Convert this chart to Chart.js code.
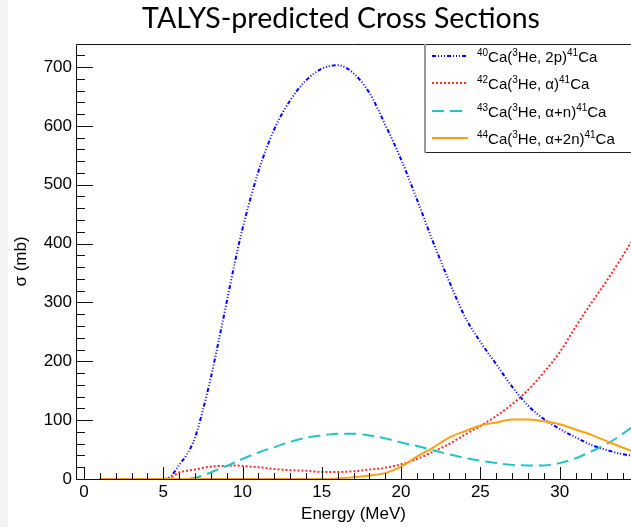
<!DOCTYPE html>
<html lang="en">
<head>
<meta charset="UTF-8">
<title>TALYS-predicted Cross Sections</title>
<script src="https://cdn.jsdelivr.net/npm/chart.js"></script>
<style>
    html, body { margin: 0; padding: 0; background: #fff; }
    canvas { display: block; }
</style>
</head>
<body>
<canvas id="grafico-secoes" width="631" height="527"></canvas>

<script>
    const energia = [1, 2, 3, 4, 5, 5.5, 6, 6.5, 7, 7.5, 8, 8.5, 9, 9.5, 10,
        11, 12, 13, 14, 15, 16, 17, 18, 19, 20, 21, 22, 23, 24, 25, 26, 27, 28, 29, 30, 31, 32, 33, 34, 34.5];

    const ca40_2p = [0, 0, 0, 0, 0, 5, 24, 42, 70, 117, 172, 235, 300, 366, 425,
        522, 594, 643, 677, 697, 703, 689, 656, 602, 543, 475, 404, 338, 277, 233, 195, 157, 125, 102, 85, 71, 58, 49, 42, 40];
    const ca42_a = [0, 0, 0, 0, 0, 3, 11, 14, 16, 19, 21, 22, 22, 23, 22,
        20, 17, 15, 14, 12, 12, 13, 16, 19, 25, 34, 46, 59, 75, 90, 107, 127, 151, 181, 215, 258, 299, 338, 380, 402];
    const ca43_an = [0, 0, 0, 0, 0, 0, 0, 0, 2, 6, 11, 17, 22, 28, 34,
        45, 54, 63, 70, 74, 77, 77, 74, 69, 62, 56, 49, 42, 36, 31, 27, 24, 23, 23, 27, 35, 47, 60, 77, 87];
    const ca44_a2n = [0, 0, 0, 0, 0, 0, 0, 0, 0, 0, 0, 0, 0, 0, 0,
        0, 0, 0, 0, 0, 1, 3, 6, 10, 21, 38, 53, 70, 81, 91, 96, 101, 101, 98, 93, 84, 75, 64, 53, 48];

    const rotulos = [
        '^{40}Ca(^{3}He, 2p)^{41}Ca',
        '^{42}Ca(^{3}He, \u03b1)^{41}Ca',
        '^{43}Ca(^{3}He, \u03b1+n)^{41}Ca',
        '^{44}Ca(^{3}He, \u03b1+2n)^{41}Ca'
    ];

    const ticksX = [0, 5, 10, 15, 20, 25, 30];
    const ticksY = [0, 100, 200, 300, 400, 500, 600, 700];

    const fonteEixo = 'Liberation Sans, Arial, sans-serif';

    function pontos(valores) {
        return energia.map((e, i) => ({ x: e, y: valores[i] }));
    }

    // texto com sobrescritos no estilo TLatex: ^{..}
    function textoLatex(ctx, texto, x, y, tam) {
        const partes = texto.split(/(\^\{[^}]*\})/).filter(p => p.length);
        let cx = x;
        partes.forEach(p => {
            if (p.startsWith('^{')) {
                const s = p.slice(2, -1);
                ctx.font = Math.round(tam * 0.66) + 'px ' + fonteEixo;
                ctx.fillText(s, cx, y - tam * 0.4);
                cx += ctx.measureText(s).width;
            } else {
                ctx.font = tam + 'px ' + fonteEixo;
                ctx.fillText(p, cx, y);
                cx += ctx.measureText(p).width;
            }
        });
    }

    const estiloRoot = {
        id: 'estiloRoot',
        beforeDraw(chart) {
            const ctx = chart.ctx;
            ctx.save();
            ctx.fillStyle = '#ffffff';
            ctx.fillRect(0, 0, chart.width, chart.height);
            ctx.fillStyle = '#f3f3f3';
            ctx.fillRect(0, 0, 8, chart.height);
            ctx.restore();
        },
        afterDraw(chart) {
            const { ctx, chartArea: a, scales: { x, y } } = chart;
            ctx.save();

            // moldura
            ctx.strokeStyle = '#111';
            ctx.lineWidth = 1;
            ctx.beginPath();
            ctx.moveTo(a.right, a.top + 0.5);
            ctx.lineTo(a.left + 0.5, a.top + 0.5);
            ctx.lineTo(a.left + 0.5, a.bottom + 0.5);
            ctx.lineTo(a.right, a.bottom + 0.5);

            // marcas para dentro, como no ROOT
            for (let v = 0; v <= 720; v += 20) {
                const py = Math.round(y.getPixelForValue(v)) + 0.5;
                const len = v % 100 === 0 ? 17 : 9;
                ctx.moveTo(a.left, py);
                ctx.lineTo(a.left + len, py);
            }
            for (let v = 0; v <= 34; v++) {
                const px = Math.round(x.getPixelForValue(v)) + 0.5;
                const len = v % 5 === 0 ? 12 : 6;
                ctx.moveTo(px, a.bottom);
                ctx.lineTo(px, a.bottom - len);
            }
            ctx.stroke();

            // legenda
            const lx = 424, ly = 44, lw = 208, lh = 108;
            ctx.fillStyle = '#fff';
            ctx.fillRect(lx, ly, lw, lh);
            ctx.strokeStyle = '#222';
            ctx.strokeRect(lx + 0.5, ly + 0.5, lw, lh);
            ctx.strokeStyle = '#999';
            ctx.lineWidth = 2;
            ctx.beginPath();
            ctx.moveTo(lx + 1, ly);
            ctx.lineTo(lx + 1, ly + lh + 1);
            ctx.stroke();

            const linhas = [56, 83, 111, 138];
            chart.data.datasets.forEach((ds, i) => {
                const yy = linhas[i];
                ctx.save();
                ctx.strokeStyle = ds.borderColor;
                ctx.lineWidth = ds.borderWidth;
                ctx.setLineDash(ds.borderDash || []);
                ctx.beginPath();
                ctx.moveTo(432, yy);
                ctx.lineTo(468, yy);
                ctx.stroke();
                ctx.restore();
                ctx.fillStyle = '#000';
                ctx.textBaseline = 'alphabetic';
                ctx.textAlign = 'left';
                textoLatex(ctx, rotulos[i], 477, yy + 6, 15);
            });

            // titulo
            ctx.fillStyle = '#000';
            ctx.font = '28.5px Lato, "Open Sans", sans-serif';
            ctx.textAlign = 'center';
            ctx.textBaseline = 'alphabetic';
            ctx.fillText('TALYS-predicted Cross Sections', 341, 28);

            ctx.restore();
        }
    };

    new Chart(document.getElementById('grafico-secoes'), {
        type: 'line',
        data: {
            datasets: [
                {
                    label: rotulos[0], data: pontos(ca40_2p),
                    borderColor: '#0000ff', borderWidth: 2,
                    borderDash: [4, 2, 1, 2, 1, 2, 1, 2], order: 3
                },
                {
                    label: rotulos[1], data: pontos(ca42_a),
                    borderColor: '#ff2a2a', borderWidth: 2,
                    borderDash: [2, 2], order: 2
                },
                {
                    label: rotulos[2], data: pontos(ca43_an),
                    borderColor: '#22c4c4', borderWidth: 2,
                    borderDash: [12, 6], order: 1
                },
                {
                    label: rotulos[3], data: pontos(ca44_a2n),
                    borderColor: '#ffa00f', borderWidth: 2,
                    order: 0
                }
            ]
        },
        options: {
            responsive: false,
            animation: false,
            elements: { point: { radius: 0 }, line: { cubicInterpolationMode: 'monotone' } },
            layout: { padding: { top: 44, right: 0, bottom: 0, left: 0 } },
            plugins: {
                legend: { display: false },
                tooltip: { enabled: false },
                title: { display: false }
            },
            scales: {
                x: {
                    type: 'linear',
                    min: -0.5,
                    max: 34.5,
                    grid: { display: false, drawTicks: false },
                    border: { display: false },
                    afterBuildTicks: s => { s.ticks = ticksX.map(v => ({ value: v })); },
                    afterFit: s => { s.height = 48; },
                    ticks: {
                        padding: 3, color: '#000', maxRotation: 0, autoSkip: false,
                        font: { family: fonteEixo, size: 17 }
                    },
                    title: {
                        display: true, text: 'Energy (MeV)', color: '#000',
                        font: { family: fonteEixo, size: 17 },
                        padding: { top: 0, bottom: 2 }
                    }
                },
                y: {
                    type: 'linear',
                    min: 0,
                    max: 739,
                    grid: { display: false, drawTicks: false },
                    border: { display: false },
                    afterBuildTicks: s => { s.ticks = ticksY.map(v => ({ value: v })); },
                    afterFit: s => { s.width = 76; },
                    ticks: {
                        padding: 4, color: '#000',
                        font: { family: fonteEixo, size: 17 }
                    },
                    title: {
                        display: true, text: '\u03c3 (mb)', color: '#000',
                        font: { family: fonteEixo, size: 17 },
                        padding: { top: 11, bottom: 0 }
                    }
                }
            }
        },
        plugins: [estiloRoot]
    });
</script>
</body>
</html>
